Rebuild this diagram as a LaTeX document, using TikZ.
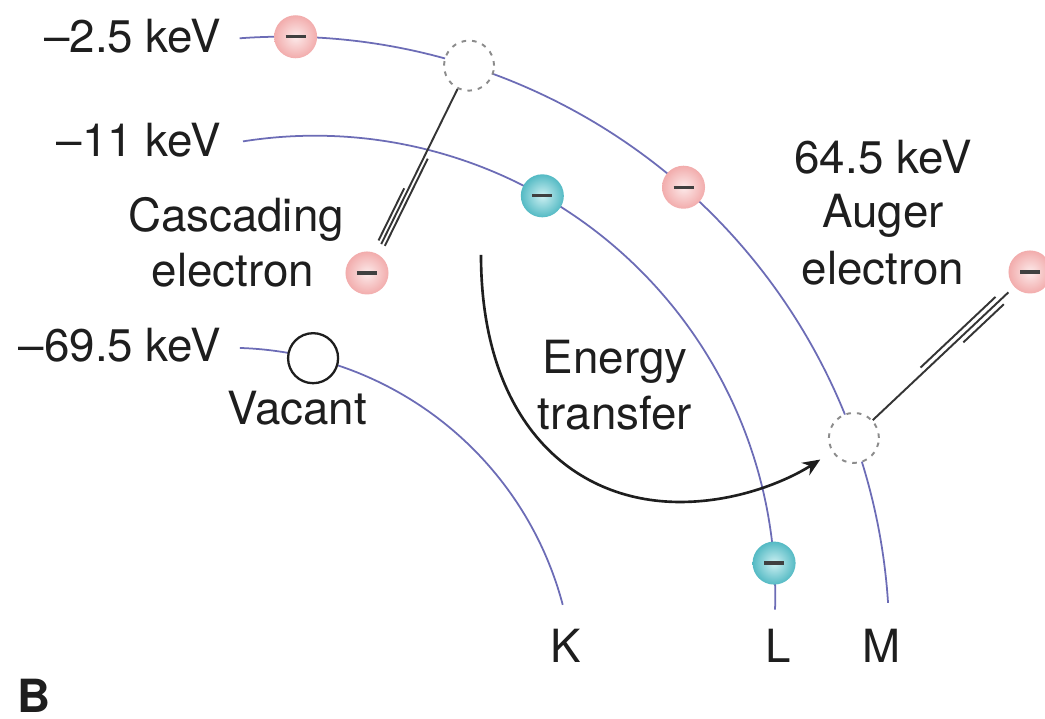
\documentclass[tikz,border=0pt]{standalone}
\usepackage{fontspec}
\setmainfont{TeX Gyre Heros}
\usetikzlibrary{calc,arrows.meta}

\definecolor{orbitblue}{RGB}{108,108,182}
\definecolor{ink}{RGB}{30,30,30}
\definecolor{pinkout}{RGB}{242,172,172}
\definecolor{pinkin}{RGB}{252,234,234}
\definecolor{tealout}{RGB}{84,186,196}
\definecolor{tealin}{RGB}{205,240,242}
\definecolor{holegray}{RGB}{140,140,140}

\begin{document}
\begin{tikzpicture}[x=0.01cm,y=0.01cm,
  orbit/.style={draw=orbitblue,line width=0.5pt},
  electron/.style={circle,minimum size=0.43cm,inner sep=0pt,
    path picture={\draw[ink!85,line width=0.9pt]
      ([xshift=-0.1cm]path picture bounding box.center) --
      ([xshift=0.1cm]path picture bounding box.center);}},
  pinkelectron/.style={electron,inner color=pinkin,outer color=pinkout},
  tealelectron/.style={electron,inner color=tealin,outer color=tealout},
  hole/.style={circle,minimum size=0.5cm,inner sep=0pt,fill=white,
    draw=holegray,line width=0.55pt,dash pattern=on 1.3pt off 1.7pt},
  vacancy/.style={circle,minimum size=0.5cm,inner sep=0pt,fill=white,
    draw=ink,line width=0.65pt},
  track/.style={draw=ink!90,line width=0.55pt},
  lbl/.style={text=ink,font=\fontsize{13pt}{15pt}\selectfont,inner sep=0pt},
  transfer/.style={draw=ink,line width=0.75pt,-{Stealth[length=5pt,width=4.2pt]}}
]
\useasboundingbox (0,0) rectangle (1045,719);
\clip (0,0) rectangle (1045,719);
\fill[white] (0,0) rectangle (1045,719);

% centres of the three shell arcs
\coordinate (cK) at (229,26);
\coordinate (cL) at (315,123);
\coordinate (cM) at (284,77);

% shells
\draw[orbit] ($(cM)+(94.2:6.05cm)$) arc[start angle=94.2,end angle=3.7,radius=6.05cm];
\draw[orbit] ($(cL)+(99:4.6cm)$) arc[start angle=99,end angle=-1.7,radius=4.6cm];
\draw[orbit] ($(cK)+(88.2:3.45cm)$) arc[start angle=88.2,end angle=14.8,radius=3.45cm];

% M shell
\node[pinkelectron] (m1) at ($(cM)+(88.9:6.05cm)$) {};
\node[hole] (h1) at ($(cM)+(72.2:6.05cm)$) {};
\node[pinkelectron] (m2) at ($(cM)+(48.7:6.05cm)$) {};
\node[hole] (h2) at ($(cM)+(19.7:6.05cm)$) {};

% L shell
\node[tealelectron] (l1) at ($(cL)+(60.4:4.6cm)$) {};
\node[tealelectron] (l2) at ($(cL)+(4.1:4.6cm)$) {};

% K shell
\node[vacancy] (vac) at ($(cK)+(75.9:3.45cm)$) {};

% emitted electrons
\node[pinkelectron] (ec) at (367,446) {};
\node[pinkelectron] (ea) at (1030,447) {};

% cascading electron track
\draw[track,shorten >=0.1cm] (h1) -- (ec);
\draw[track,shorten >=0.1cm,transform canvas={shift={(3.6,-1.8)}}] ($(h1)!0.44!(ec)$) -- (ec);
\draw[track,shorten >=0.12cm,transform canvas={shift={(-3.6,1.8)}}] ($(h1)!0.6!(ec)$) -- (ec);

% Auger electron track
\draw[track,shorten >=0.075cm] (h2) -- (ea);
\draw[track,shorten >=0.2cm,transform canvas={shift={(-3.8,4.0)}}] ($(h2)!0.40!(ea)$) -- (ea);
\draw[track,shorten >=0.19cm,transform canvas={shift={(3.8,-4.0)}}] ($(h2)!0.60!(ea)$) -- (ea);

% energy transfer
\coordinate (etstart) at (481,464);
\coordinate (etlow) at (680,217);
\draw[transfer,shorten >=0.14cm] (etstart) .. controls (481,300) and (570,217) .. (etlow)
  .. controls (740,217) and (790,240) .. (h2);

% labels
\node[lbl,anchor=base east] (eM) at (222,666) {–2.5 keV};
\node[lbl,anchor=base east] (eL) at (222,562) {–11 keV};
\node[lbl,anchor=base east] (eK) at (222,357) {–69.5 keV};
\node[lbl,anchor=base] (casc1) at (236,487) {Cascading};
\node[lbl,anchor=base] (casc2) at (233,432) {electron};
\node[lbl,anchor=base] (vactxt) at (297,294) {Vacant};
\node[lbl,anchor=base] (aug1) at (883,545) {64.5 keV};
\node[lbl,anchor=base] (aug2) at (883,491) {Auger};
\node[lbl,anchor=base] (aug3) at (883,434) {electron};
\node[lbl,anchor=base] (et1) at (615,345) {Energy};
\node[lbl,anchor=base] (et2) at (615,289) {transfer};
\node[lbl,anchor=base] (shK) at (566,56) {K};
\node[lbl,anchor=base] (shL) at (778,56) {L};
\node[lbl,anchor=base] (shM) at (882,56) {M};
\node[lbl,anchor=base west,font=\fontsize{13pt}{15pt}\selectfont\bfseries] (panel) at (17,6) {B};
\end{tikzpicture}
\end{document}
